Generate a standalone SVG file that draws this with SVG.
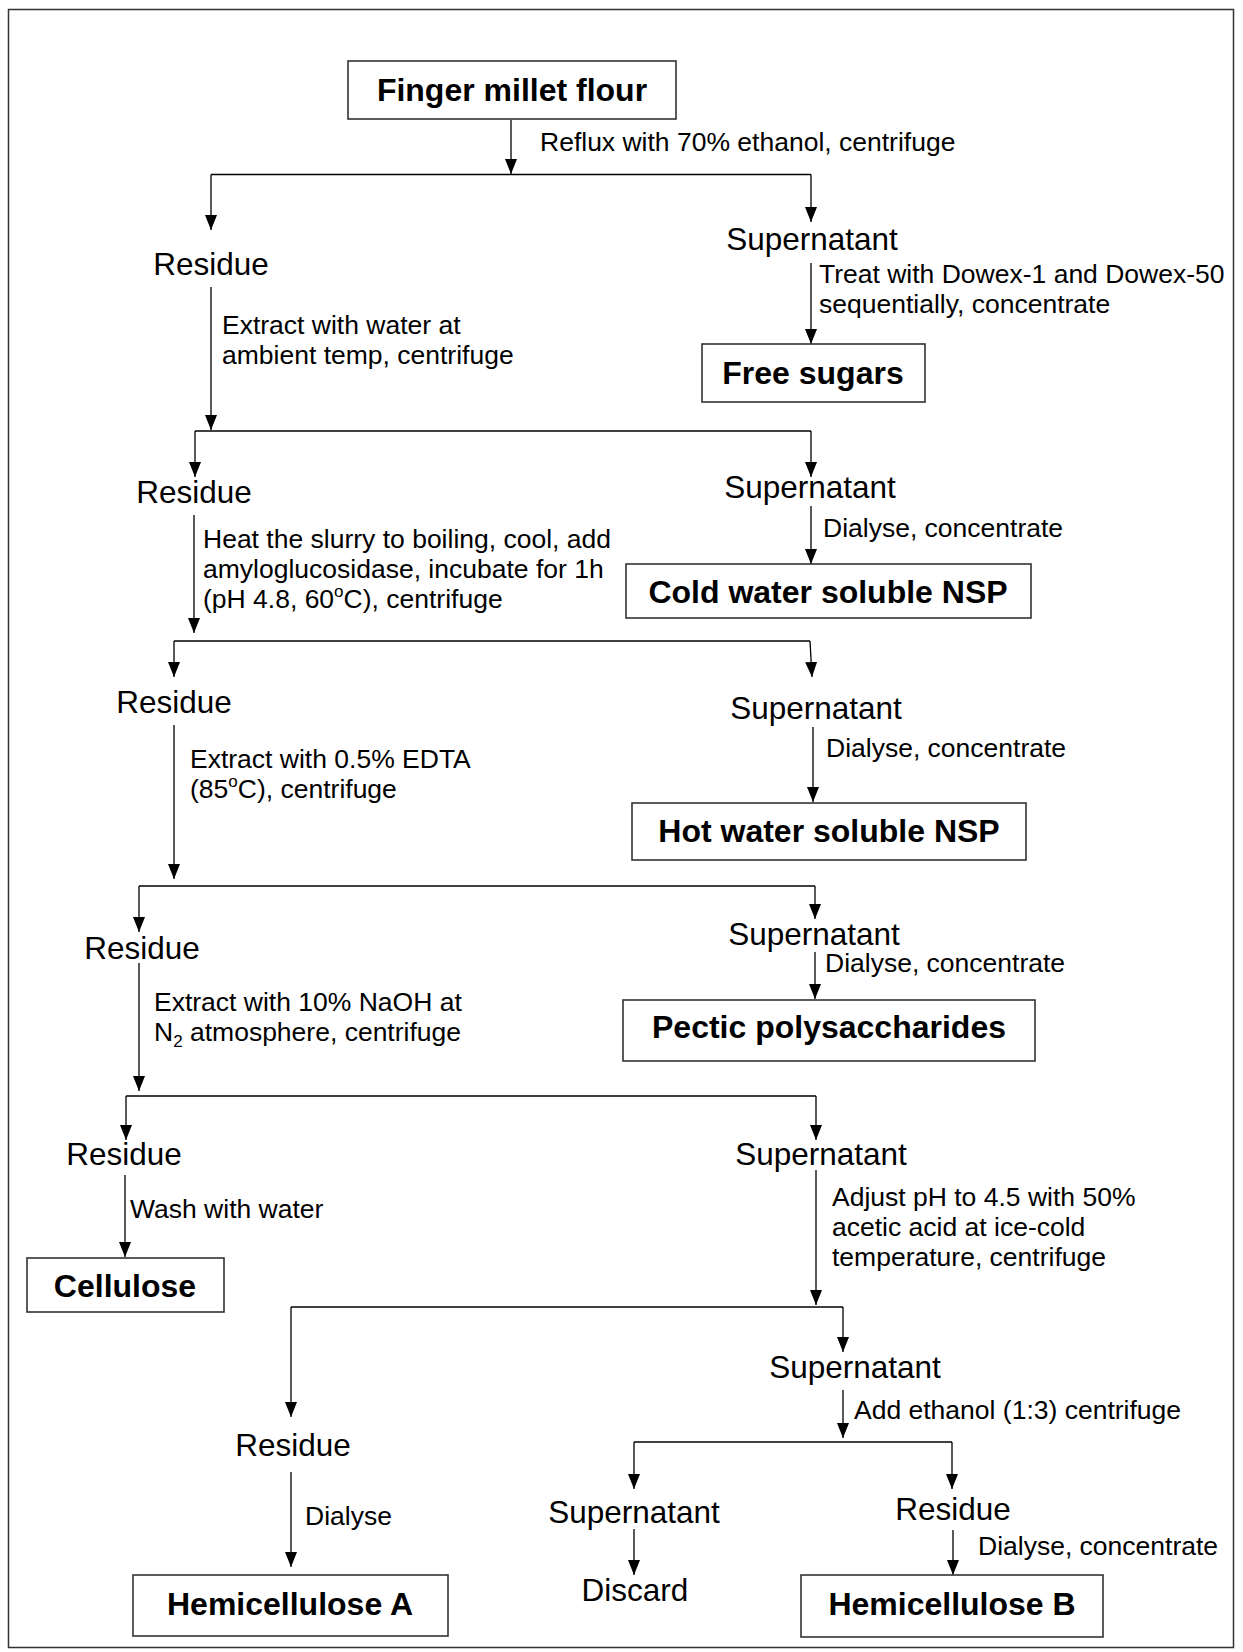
<svg xmlns="http://www.w3.org/2000/svg" width="1243" height="1652" viewBox="0 0 1243 1652">
<defs>
<marker id="ah" markerUnits="userSpaceOnUse" markerWidth="15" markerHeight="12" refX="15" refY="6" orient="auto" viewBox="0 0 15 12">
<path d="M0,0 L15,6 L0,12 z" fill="#000"/>
</marker>
<style>
.bd{fill:none;stroke:#333;stroke-width:1.5}
.box{fill:#fff;stroke:#333;stroke-width:1.6}
.ln{stroke:#000;stroke-width:1.3;fill:none}
.ar{stroke:#000;stroke-width:1.3;fill:none;marker-end:url(#ah)}
.bt{font-family:"Liberation Sans",Arial,sans-serif;font-weight:bold;font-size:32px;text-anchor:middle;fill:#000}
.nt{font-family:"Liberation Sans",Arial,sans-serif;font-size:31.5px;text-anchor:middle;fill:#000}
.lt{font-family:"Liberation Sans",Arial,sans-serif;font-size:26.5px;fill:#000}
</style>
</defs>
<rect class="bd" x="8.5" y="9.5" width="1225" height="1638"/>

<g id="connectors">
<line class="ar" x1="511" y1="120" x2="511" y2="174"/>
<line class="ln" x1="211" y1="174.5" x2="811" y2="174.5"/>
<line class="ar" x1="211" y1="174.5" x2="211" y2="230"/>
<line class="ar" x1="811" y1="174.5" x2="811" y2="222"/>
<line class="ar" x1="211" y1="287" x2="211" y2="430"/>
<line class="ar" x1="811" y1="263" x2="811" y2="344"/>

<line class="ln" x1="195" y1="431" x2="811" y2="431"/>
<line class="ar" x1="195" y1="431" x2="195" y2="477"/>
<line class="ar" x1="811" y1="431" x2="811" y2="477"/>
<line class="ar" x1="194" y1="515" x2="194" y2="633"/>
<line class="ar" x1="811" y1="506" x2="811" y2="564"/>

<line class="ln" x1="174" y1="641" x2="810" y2="641"/>
<line class="ar" x1="174" y1="641" x2="174" y2="677"/>
<line class="ar" x1="810" y1="641" x2="812" y2="677"/>
<line class="ar" x1="174" y1="725" x2="174" y2="879"/>
<line class="ar" x1="813" y1="727" x2="813" y2="802"/>

<line class="ln" x1="139" y1="886" x2="815" y2="886"/>
<line class="ar" x1="139" y1="886" x2="139" y2="932"/>
<line class="ar" x1="815" y1="886" x2="815" y2="919"/>
<line class="ar" x1="139" y1="963" x2="139" y2="1091"/>
<line class="ar" x1="815" y1="952" x2="815" y2="999"/>

<line class="ln" x1="126" y1="1096" x2="816" y2="1096"/>
<line class="ar" x1="126" y1="1096" x2="126" y2="1140"/>
<line class="ar" x1="816" y1="1096" x2="816" y2="1140"/>
<line class="ar" x1="125" y1="1175" x2="125" y2="1257"/>
<line class="ar" x1="816" y1="1170" x2="816" y2="1305"/>

<line class="ln" x1="291" y1="1307" x2="843" y2="1307"/>
<line class="ar" x1="291" y1="1307" x2="291" y2="1417"/>
<line class="ar" x1="843" y1="1307" x2="843" y2="1352"/>
<line class="ar" x1="291" y1="1472" x2="291" y2="1567"/>
<line class="ar" x1="843" y1="1390" x2="843" y2="1438"/>

<line class="ln" x1="634" y1="1442" x2="952" y2="1442"/>
<line class="ar" x1="634" y1="1442" x2="634" y2="1489"/>
<line class="ar" x1="952" y1="1442" x2="952" y2="1489"/>
<line class="ar" x1="634" y1="1529" x2="634" y2="1575"/>
<line class="ar" x1="953" y1="1530" x2="953" y2="1575"/>
</g>

<g id="labels">
<text class="lt" x="540" y="151">Reflux with 70% ethanol, centrifuge</text>
<text class="lt" x="222" y="334">Extract with water at</text>
<text class="lt" x="222" y="364">ambient temp, centrifuge</text>
<text class="lt" x="819" y="283">Treat with Dowex-1 and Dowex-50</text>
<text class="lt" x="819" y="313">sequentially, concentrate</text>
<text class="lt" x="203" y="548">Heat the slurry to boiling, cool, add</text>
<text class="lt" x="203" y="578">amyloglucosidase, incubate for 1h</text>
<text class="lt" x="203" y="608">(pH 4.8, 60<tspan dy="-11" font-size="17">o</tspan><tspan dy="11">C), centrifuge</tspan></text>
<text class="lt" x="823" y="537">Dialyse, concentrate</text>
<text class="lt" x="190" y="768">Extract with 0.5% EDTA</text>
<text class="lt" x="190" y="798">(85<tspan dy="-11" font-size="17">o</tspan><tspan dy="11">C), centrifuge</tspan></text>
<text class="lt" x="826" y="757">Dialyse, concentrate</text>
<text class="lt" x="154" y="1011">Extract with 10% NaOH at</text>
<text class="lt" x="154" y="1041">N<tspan dy="6" font-size="17">2</tspan><tspan dy="-6"> atmosphere, centrifuge</tspan></text>
<text class="lt" x="825" y="972">Dialyse, concentrate</text>
<text class="lt" x="130" y="1218">Wash with water</text>
<text class="lt" x="832" y="1206">Adjust pH to 4.5 with 50%</text>
<text class="lt" x="832" y="1236">acetic acid at ice-cold</text>
<text class="lt" x="832" y="1266">temperature, centrifuge</text>
<text class="lt" x="854" y="1419">Add ethanol (1:3) centrifuge</text>
<text class="lt" x="305" y="1525">Dialyse</text>
<text class="lt" x="978" y="1555">Dialyse, concentrate</text>
</g>

<g id="n-flour"><rect class="box" x="348" y="61" width="328" height="58"/><text class="bt" x="512" y="101">Finger millet flour</text></g>
<g id="n-residue1"><text class="nt" x="211" y="275">Residue</text></g>
<g id="n-super1"><text class="nt" x="812" y="250">Supernatant</text></g>
<g id="n-freesugars"><rect class="box" x="702" y="344" width="223" height="58"/><text class="bt" x="813" y="384">Free sugars</text></g>
<g id="n-residue2"><text class="nt" x="194" y="503">Residue</text></g>
<g id="n-super2"><text class="nt" x="810" y="498">Supernatant</text></g>
<g id="n-coldnsp"><rect class="box" x="626" y="564" width="405" height="54"/><text class="bt" x="828" y="603">Cold water soluble NSP</text></g>
<g id="n-residue3"><text class="nt" x="174" y="713">Residue</text></g>
<g id="n-super3"><text class="nt" x="816" y="719">Supernatant</text></g>
<g id="n-hotnsp"><rect class="box" x="632" y="803" width="394" height="57"/><text class="bt" x="829" y="842">Hot water soluble NSP</text></g>
<g id="n-residue4"><text class="nt" x="142" y="959">Residue</text></g>
<g id="n-super4"><text class="nt" x="814" y="945">Supernatant</text></g>
<g id="n-pectic"><rect class="box" x="623" y="1000" width="412" height="61"/><text class="bt" x="829" y="1038">Pectic polysaccharides</text></g>
<g id="n-residue5"><text class="nt" x="124" y="1165">Residue</text></g>
<g id="n-super5"><text class="nt" x="821" y="1165">Supernatant</text></g>
<g id="n-cellulose"><rect class="box" x="27" y="1258" width="197" height="54"/><text class="bt" x="125" y="1297">Cellulose</text></g>
<g id="n-super6"><text class="nt" x="855" y="1378">Supernatant</text></g>
<g id="n-residue6"><text class="nt" x="293" y="1456">Residue</text></g>
<g id="n-hemiA"><rect class="box" x="133" y="1575" width="315" height="61"/><text class="bt" x="290" y="1615">Hemicellulose A</text></g>
<g id="n-super7"><text class="nt" x="634" y="1523">Supernatant</text></g>
<g id="n-discard"><text class="nt" x="635" y="1601">Discard</text></g>
<g id="n-residue7"><text class="nt" x="953" y="1520">Residue</text></g>
<g id="n-hemiB"><rect class="box" x="801" y="1575" width="302" height="62"/><text class="bt" x="952" y="1615">Hemicellulose B</text></g>
</svg>
